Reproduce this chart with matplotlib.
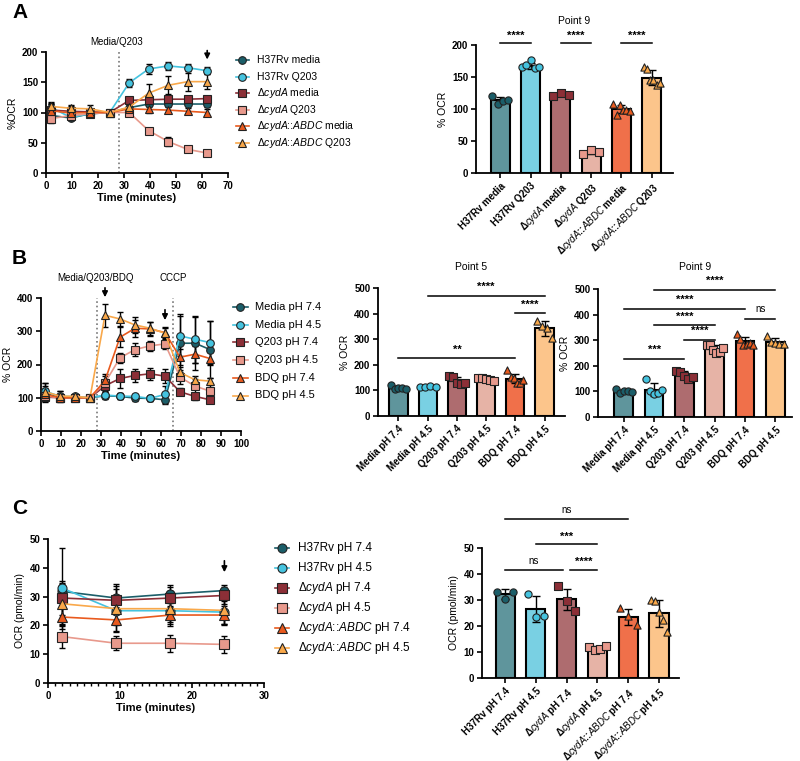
import numpy as np
import matplotlib
matplotlib.use("Agg")
import matplotlib.pyplot as plt
from matplotlib.lines import Line2D

plt.rcParams['font.family'] = ['Liberation Sans', 'DejaVu Sans']
plt.rcParams['mathtext.fontset'] = 'custom'
plt.rcParams['mathtext.rm'] = 'Liberation Sans'
plt.rcParams['mathtext.it'] = 'Liberation Sans:italic'
plt.rcParams['mathtext.bf'] = 'Liberation Sans:bold'

# ---------------- colours ----------------
line_colors = ['#1b5e69', '#45c3df', '#8c2f37', '#e8998c', '#e95a1e', '#f9a84a']
bar_colors = ['#5f959c', '#79d0e3', '#ae6c6f', '#e6b3a6', '#f0704a', '#fcc58b']
markers = ['o', 'o', 's', 's', '^', '^']

# ---------------- Panel A data ----------------
tA = [2, 9.5, 17, 24.5, 32, 39.5, 47, 54.5, 62]
A_labels_leg = ["H37Rv media", "H37Rv Q203", "Δ$\\it{cydA}$ media", "Δ$\\it{cydA}$ Q203",
                "Δ$\\it{cydA}$::$\\it{ABDC}$ media", "Δ$\\it{cydA}$::$\\it{ABDC}$ Q203"]
A_h37_media = [95, 91, 98, 100, 108, 114, 114, 114, 114]
A_h37_q203 = [108, 92, 98, 100, 149, 172, 177, 174, 169]
A_cyd_media = [104, 102, 101, 100, 120, 121, 122, 122, 123]
A_cyd_q203 = [90, 95, 98, 100, 100, 70, 52, 39, 33]
A_abdc_media = [103, 99, 100, 100, 106, 105, 104, 102, 100]
A_abdc_q203 = [110, 107, 106, 100, 109, 132, 145, 151, 151]
A_err = [[8, 4, 3, 0, 4, 4, 4, 4, 5],
         [6, 4, 3, 0, 7, 8, 6, 6, 6],
         [10, 8, 4, 0, 3, 3, 3, 3, 3],
         [8, 5, 3, 0, 3, 4, 8, 4, 3],
         [12, 7, 5, 0, 5, 5, 5, 5, 6],
         [8, 6, 6, 0, 6, 15, 15, 15, 12]]

A_bar_labels = ["H37Rv media", "H37Rv Q203", "Δ$\\it{cydA}$ media", "Δ$\\it{cydA}$ Q203",
                "Δ$\\it{cydA}$::$\\it{ABDC}$ media", "Δ$\\it{cydA}$::$\\it{ABDC}$ Q203"]
A_means = [114, 167, 123, 33, 100, 149]
A_sds = [5, 5, 2, 3, 7, 12]
A_pts = [[121, 108, 113, 114], [165, 168, 177, 164, 166], [121, 125, 122], [30, 36, 33],
         [108, 90, 106, 99, 98, 97], [166, 163, 145, 145, 137, 140]]

# ---------------- Panel B data ----------------
tB = [2, 9.5, 17, 24.5, 32, 39.5, 47, 54.5, 62, 69.5, 77, 84.5]
B_labels = ["Media pH 7.4", "Media pH 4.5", "Q203 pH 7.4", "Q203 pH 4.5", "BDQ pH 7.4", "BDQ pH 4.5"]
B_media74 = [114, 100, 100, 100, 106, 104, 99, 98, 94, 264, 264, 245]
B_media45 = [120, 104, 104, 100, 108, 105, 104, 98, 110, 286, 276, 266]
B_q74 = [102, 100, 100, 100, 136, 158, 167, 172, 165, 118, 104, 94]
B_q45 = [105, 100, 100, 100, 145, 220, 245, 256, 262, 162, 135, 120]
B_bdq74 = [110, 100, 100, 100, 152, 282, 309, 307, 296, 222, 231, 218]
B_bdq45 = [118, 105, 104, 100, 348, 337, 319, 309, 294, 176, 154, 150]
B_err = [[20, 12, 6, 0, 10, 8, 10, 8, 12, 88, 80, 85],
         [25, 15, 8, 0, 10, 8, 8, 8, 25, 60, 70, 65],
         [15, 10, 5, 0, 15, 28, 20, 18, 20, 10, 10, 8],
         [15, 10, 5, 0, 20, 15, 20, 15, 15, 20, 20, 18],
         [20, 10, 5, 0, 20, 30, 25, 20, 15, 25, 25, 20],
         [25, 15, 8, 0, 35, 20, 25, 20, 20, 15, 12, 10]]

P5_means = [110, 114, 138, 143, 146, 343]
P5_sds = [6, 2, 14, 7, 18, 30]
P5_pts = [[120, 105, 108, 110, 107], [112, 115, 116, 114], [155, 153, 130, 126, 127],
          [150, 148, 146, 140, 137], [178, 152, 148, 130, 128, 140], [372, 352, 342, 305]]
P9_means = [100, 107, 164, 266, 295, 294]
P9_sds = [6, 25, 14, 14, 18, 13]
P9_pts = [[109, 94, 103, 100, 96], [148, 100, 88, 94, 107], [178, 175, 160, 148, 158],
          [282, 280, 262, 250, 252, 268], [325, 305, 280, 287, 288, 282], [318, 292, 288, 285, 286]]

# ---------------- Panel C data ----------------
tC = [2, 9.5, 17, 24.5]
C_labels_leg = ["H37Rv pH 7.4", "H37Rv pH 4.5", "Δ$\\it{cydA}$ pH 7.4", "Δ$\\it{cydA}$ pH 4.5",
                "Δ$\\it{cydA}$::$\\it{ABDC}$ pH 7.4", "Δ$\\it{cydA}$::$\\it{ABDC}$ pH 4.5"]
C_h37_74 = [31.8, 29.5, 30.9, 32.1]
C_h37_45 = [32.9, 25.1, 25.1, 24.6]
C_cyd_74 = [29.5, 28.7, 29.5, 30.4]
C_cyd_45 = [16.1, 13.8, 13.8, 13.4]
C_abdc_74 = [22.9, 21.9, 23.6, 23.6]
C_abdc_45 = [27.5, 25.8, 25.8, 25.2]
C_err = [[3, 5, 3, 2], [14, 5, 4, 4], [6, 4, 4, 3], [4, 2.5, 3, 3], [3, 4, 3, 3], [7, 8, 6, 5]]

C_bar_labels = ["H37Rv pH 7.4", "H37Rv pH 4.5", "Δ$\\it{cydA}$ pH 7.4", "Δ$\\it{cydA}$ pH 4.5",
                "Δ$\\it{cydA}$::$\\it{ABDC}$ pH 7.4", "Δ$\\it{cydA}$::$\\it{ABDC}$ pH 4.5"]
C_means = [32.3, 26.6, 30.3, 11.4, 23.3, 24.9]
C_sds = [1.8, 5.0, 4.0, 0.8, 3.1, 5.2]
C_pts = [[33.2, 30.3, 33.2], [32.3, 23.6, 23.9], [35.5, 29.7, 25.6], [12.0, 10.6, 11.3, 12.2],
         [26.9, 23.7, 20.5], [30.1, 29.5, 25.3, 22.4, 17.6]]

# ---------------- helpers ----------------
W, H = 800, 761
fig = plt.figure(figsize=(W / 100, H / 100), dpi=100)


def add_ax(x0, y0, x1, y1):
    return fig.add_axes([x0 / W, 1 - y1 / H, (x1 - x0) / W, (y1 - y0) / H])


def style(ax, fs=7):
    for s in ['top', 'right']:
        ax.spines[s].set_visible(False)
    for s in ['left', 'bottom']:
        ax.spines[s].set_linewidth(1.3)
    ax.tick_params(direction='out', width=1.2, length=3.5, labelsize=fs, pad=2)
    ax.tick_params(which='minor', direction='out', width=1.0, length=2)


def bold_ticks(ax, which='both'):
    labs = []
    if which in ('both', 'y'):
        labs += ax.get_yticklabels()
    if which in ('both', 'x'):
        labs += ax.get_xticklabels()
    for lab in labs:
        lab.set_fontweight('bold')


def manual_legend(labels, y0, dy, hx0, hx1, tx, fs, ms):
    for i, lab in enumerate(labels):
        yy = 1 - (y0 + dy * i) / H
        fig.add_artist(Line2D([hx0 / W, hx1 / W], [yy, yy], transform=fig.transFigure,
                              color=line_colors[i], lw=1.2))
        fig.add_artist(Line2D([(hx0 + hx1) / 2 / W], [yy], transform=fig.transFigure,
                              marker=markers[i], ms=ms, mfc=line_colors[i], mec='#222222',
                              mew=0.8, lw=0))
        fig.text(tx / W, yy, lab, fontsize=fs, ha='left', va='center')


def line_panel(ax, t, series, errs, ms):
    for i, (y, e) in enumerate(zip(series, errs)):
        ax.errorbar(t, y, yerr=e, fmt='none', ecolor='k', elinewidth=1.0, capsize=2.5,
                    capthick=1.0, zorder=2 + i * 0.1)
        ax.plot(t, y, color=line_colors[i], lw=1.2, marker=markers[i], ms=ms,
                mfc=line_colors[i], mec='#222222', mew=0.8, zorder=3 + i * 0.1)


def bar_panel(ax, means, sds, pts, labels, ylim, yticks, ylabel, xl, label_fs=6.7):
    x = np.arange(len(means))
    ax.bar(x, means, width=0.62, color=bar_colors, edgecolor='k', linewidth=1.5, zorder=2)
    ax.errorbar(x, means, yerr=sds, fmt='none', ecolor='k', elinewidth=1.0, capsize=3,
                capthick=1.0, zorder=3)
    for i, p in enumerate(pts):
        off = np.linspace(-0.27, 0.27, len(p))
        ax.scatter(x[i] + off, p, marker=markers[i], s=27, color=line_colors[i],
                   edgecolor='#222222', linewidth=0.8, zorder=4, clip_on=False)
    ax.set_xlim(*xl)
    ax.set_ylim(*ylim)
    ax.set_yticks(yticks)
    ax.set_xticks(x)
    ax.set_xticklabels(labels, rotation=45, ha='right', rotation_mode='anchor',
                       fontweight='bold', fontsize=label_fs)
    style(ax)
    bold_ticks(ax, 'y')
    ax.set_ylabel(ylabel, fontsize=7.5, labelpad=3)


def sig(ax, x1, x2, y, text, ty, fs=8):
    ax.plot([x1, x2], [y, y], color='k', lw=1.1, clip_on=False, zorder=5)
    bold = 'normal' if text == 'ns' else 'bold'
    ax.text((x1 + x2) / 2, ty, text, ha='center', va='center', fontsize=fs if text != 'ns' else 7,
            fontweight=bold)


def arrow(ax, x, ytop, ybot):
    ax.annotate('', xy=(x, ybot), xytext=(x, ytop),
                arrowprops=dict(arrowstyle='-|>', color='k', lw=1.2, mutation_scale=8),
                annotation_clip=False)


# ================= Panel A line =================
axA = add_ax(46, 52, 228, 173)
line_panel(axA, tA, [A_h37_media, A_h37_q203, A_cyd_media, A_cyd_q203, A_abdc_media, A_abdc_q203],
           A_err, 5.5)
manual_legend(A_labels_leg, 60, 16.6, 236, 249, 257, 7.5, 5.5)
axA.set_xlim(0, 70)
axA.set_ylim(0, 200)
axA.set_xticks(range(0, 71, 10))
axA.set_yticks(range(0, 201, 50))
style(axA)
bold_ticks(axA)
axA.set_xlabel('Time (minutes)', fontweight='bold', fontsize=8, labelpad=2)
axA.set_ylabel('%OCR', fontsize=7.5, labelpad=3)
axA.plot([28, 28], [0, 200], color='#777777', ls=':', lw=1.2, zorder=1)
axA.text(27.3, 216, 'Media/Q203', ha='center', va='center', fontsize=7)
arrow(axA, 62, 207, 183)

# ================= Panel A bar =================
axAb = add_ax(476, 45, 673, 173)
bar_panel(axAb, A_means, A_sds, A_pts, A_bar_labels, (0, 200), range(0, 201, 50), '% OCR',
          (-0.8, 5.7))
axAb.set_title('Point 9', fontsize=7.5, pad=15)
sig(axAb, 0, 1, 203, '****', 215)
sig(axAb, 2, 3, 203, '****', 215)
sig(axAb, 4, 5, 203, '****', 215)

# ================= Panel B line =================
axB = add_ax(41, 298, 241, 431)
line_panel(axB, tB, [B_media74, B_media45, B_q74, B_q45, B_bdq74, B_bdq45], B_err, 5.5)
manual_legend(B_labels, 307, 17.7, 233, 248, 255, 8, 5.5)
axB.set_xlim(0, 100)
axB.set_ylim(0, 400)
axB.set_xticks(range(0, 101, 10))
axB.set_yticks(range(0, 401, 100))
style(axB)
bold_ticks(axB)
axB.set_xlabel('Time (minutes)', fontweight='bold', fontsize=8, labelpad=2)
axB.set_ylabel('% OCR', fontsize=7.5, labelpad=3)
for xv in (28, 66):
    axB.plot([xv, xv], [0, 400], color='#777777', ls=':', lw=1.2, zorder=1)
axB.text(27.5, 460, 'Media/Q203/BDQ', ha='center', va='center', fontsize=7)
axB.text(66, 460, 'CCCP', ha='center', va='center', fontsize=7)
arrow(axB, 32, 439, 394)
arrow(axB, 62, 373, 325)

# ================= Panel B Point 5 =================
axP5 = add_ax(378, 288, 565, 416)
bar_panel(axP5, P5_means, P5_sds, P5_pts, B_labels, (0, 500), range(0, 501, 100), '% OCR',
          (-0.7, 5.7))
axP5.set_title('Point 5', fontsize=7.5, pad=13)
sig(axP5, 1, 5, 469, '****', 504)
sig(axP5, 4, 5, 401, '****', 434)
sig(axP5, 0, 4, 227, '**', 258)

# ================= Panel B Point 9 =================
axP9 = add_ax(598, 289, 792, 417)
bar_panel(axP9, P9_means, P9_sds, P9_pts, B_labels, (0, 500), range(0, 501, 100), '% OCR',
          (-0.85, 5.55))
axP9.set_title('Point 9', fontsize=7.5, pad=14)
sig(axP9, 1, 5, 497, '****', 532)
sig(axP9, 0, 4, 423, '****', 458)
sig(axP9, 4, 5, 384, 'ns', 423)
sig(axP9, 1, 3, 360, '****', 393)
sig(axP9, 2, 3, 302, '****', 337)
sig(axP9, 0, 2, 227, '***', 263)

# ================= Panel C line =================
axC = add_ax(48, 539, 264, 683)
line_panel(axC, tC, [C_h37_74, C_h37_45, C_cyd_74, C_cyd_45, C_abdc_74, C_abdc_45], C_err, 6.5)
manual_legend(C_labels_leg, 548, 20, 275, 289, 298, 8.5, 6.5)
axC.set_xlim(0, 30)
axC.set_ylim(0, 50)
axC.set_xticks(range(0, 31, 10))
axC.set_xticks(np.arange(0, 31, 1), minor=True)
axC.set_yticks(range(0, 51, 10))
style(axC)
bold_ticks(axC)
axC.set_xlabel('Time (minutes)', fontweight='bold', fontsize=8, labelpad=2)
axC.set_ylabel('OCR (pmol/min)', fontsize=7.5, labelpad=3)
arrow(axC, 24.5, 43.4, 37.5)

# ================= Panel C bar =================
axCb = add_ax(482, 548, 679, 678)
bar_panel(axCb, C_means, C_sds, C_pts, C_bar_labels, (0, 50), range(0, 51, 10), 'OCR (pmol/min)',
          (-0.75, 5.65))
sig(axCb, 0, 4, 61.3, 'ns', 64.7)
sig(axCb, 1, 3, 51.5, '***', 54.2)
sig(axCb, 0, 1.88, 41.7, 'ns', 45.0)
sig(axCb, 2.1, 3, 41.7, '****', 44.5)

# ================= panel letters =================
fig.text(12 / W, 1 - 12 / H, 'A', fontsize=15, fontweight='bold', ha='left', va='center')
fig.text(12 / W, 1 - 259 / H, 'B', fontsize=15, fontweight='bold', ha='left', va='center')
fig.text(12 / W, 1 - 509 / H, 'C', fontsize=15, fontweight='bold', ha='left', va='center')

fig.savefig('out.png', dpi=100)
